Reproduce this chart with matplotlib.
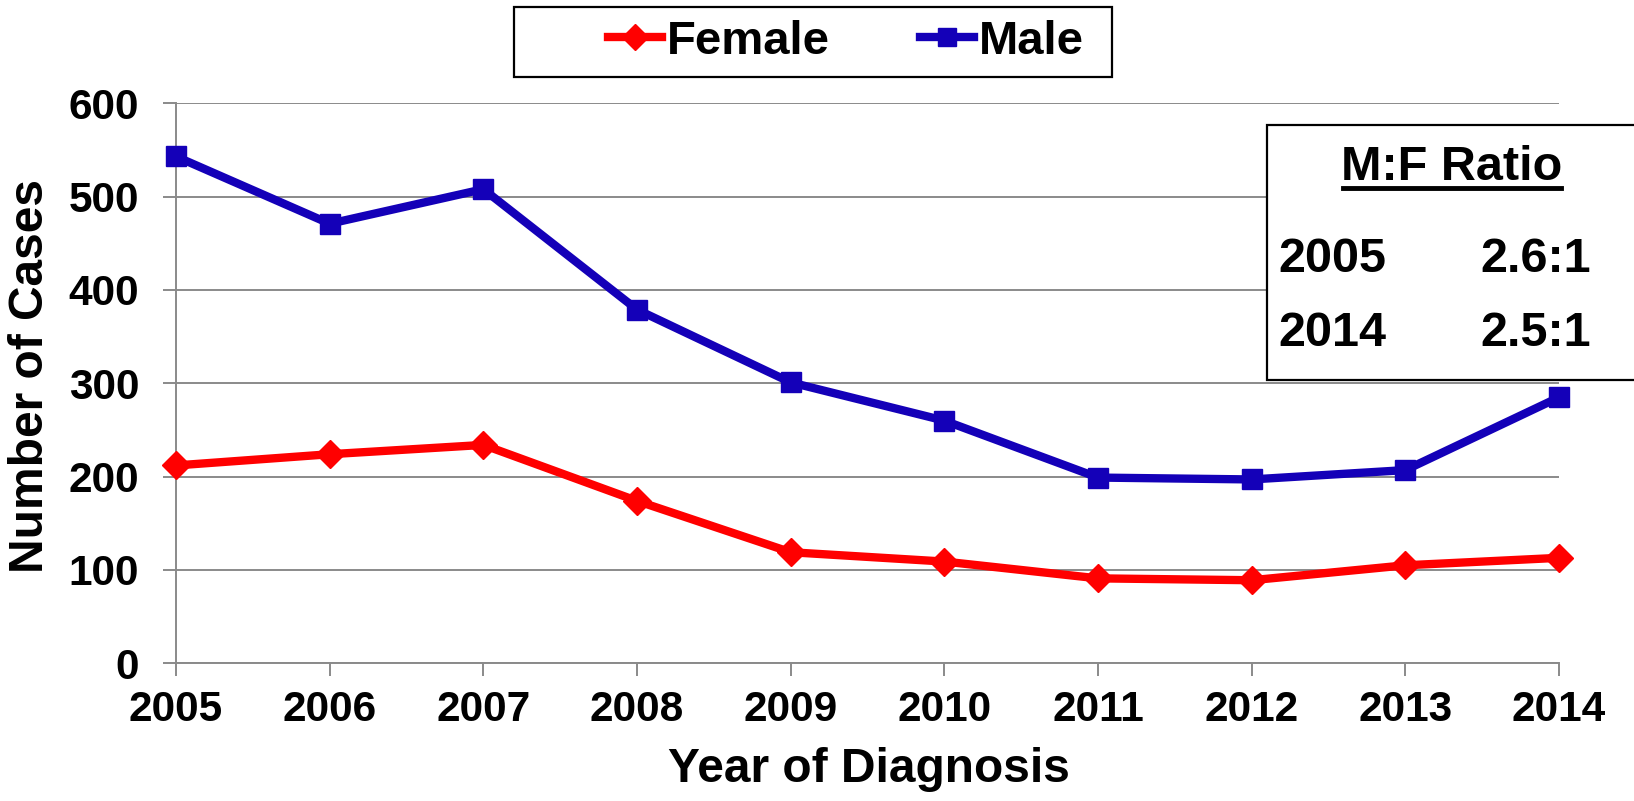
import matplotlib
matplotlib.use("Agg")
import matplotlib.pyplot as plt
from matplotlib.patches import Rectangle
from matplotlib.lines import Line2D

years = [2005, 2006, 2007, 2008, 2009, 2010, 2011, 2012, 2013, 2014]
female = [212, 224, 234, 174, 119, 109, 91, 89, 105, 113]
male = [543, 471, 508, 379, 301, 260, 199, 197, 207, 285]
yticks = [0, 100, 200, 300, 400, 500, 600]
ratio_rows = [("2005", "2.6:1"), ("2014", "2.5:1")]

RED = "#FF0000"
BLUE = "#1400B8"
GRID = "#8a8a8a"

plt.rcParams['font.family'] = ['Liberation Sans', 'DejaVu Sans']
plt.rcParams['font.weight'] = 'bold'

W, H = 1634, 801
fig = plt.figure(figsize=(W / 100, H / 100), dpi=100)

def fx(px):
    return px / W

def fy(py):
    return 1 - py / H

ax = fig.add_axes([fx(176), fy(663.3), fx(1559) - fx(176), fy(103.3) - fy(663.3)])

ax.plot(years, female, color=RED, lw=6, marker='D', ms=14,
        clip_on=False, zorder=4, label='Female')
ax.plot(years, male, color=BLUE, lw=6, marker='s', ms=14.5,
        clip_on=False, zorder=4, label='Male')

ax.set_xlim(2005, 2014)
ax.set_ylim(0, 600)
ax.set_xticks(years)
ax.set_xticklabels([str(y) for y in years])
ax.set_yticks(yticks)
ax.yaxis.grid(True, color=GRID, lw=1.4)
ax.set_axisbelow(True)
for s in ['top', 'right']:
    ax.spines[s].set_visible(False)
for s in ['left', 'bottom']:
    ax.spines[s].set_color(GRID)
    ax.spines[s].set_linewidth(1.4)
ax.tick_params(axis='both', colors=GRID, width=1.4, length=9.5, labelcolor='black')
ax.tick_params(axis='y', labelsize=30.5, pad=17)
ax.tick_params(axis='x', labelsize=30.5, pad=10)
for lab in ax.get_xticklabels() + ax.get_yticklabels():
    lab.set_fontweight('bold')

# axis labels
fig.text(fx(869), fy(782), "Year of Diagnosis", ha='center', va='baseline',
         fontsize=34.5, fontweight='bold')
fig.text(fx(31), fy(376), "Number of Cases", ha='center', va='center',
         rotation=90, fontsize=34.5, fontweight='bold')

# legend box
fig.patches.append(Rectangle((fx(514), fy(77)), fx(1112) - fx(514), fy(7) - fy(77),
                             transform=fig.transFigure, facecolor='white',
                             edgecolor='black', lw=1.6, zorder=1))
handles = [Line2D([], [], color=RED, lw=6, marker='D', ms=13),
           Line2D([], [], color=BLUE, lw=6, marker='s', ms=13)]
leg = fig.legend(handles, ['Female', 'Male'], loc='center',
                 bbox_to_anchor=(fx(846), fy(42)), ncol=2, frameon=False,
                 prop={'size': 34, 'weight': 'bold'}, handlelength=1.15,
                 handletextpad=0.1, columnspacing=1.9, borderpad=0)

# M:F ratio box
fig.patches.append(Rectangle((fx(1267), fy(380)), fx(1640) - fx(1267), fy(125) - fy(380),
                             transform=fig.transFigure, facecolor='white',
                             edgecolor='black', lw=1.6, zorder=5))
fig.text(fx(1452), fy(180), "M:F Ratio", ha='center', va='baseline',
         fontsize=35, fontweight='bold', zorder=6)
fig.lines.append(Line2D([fx(1343), fx(1561)], [fy(188), fy(188)],
                        transform=fig.transFigure, color='black', lw=3.5, zorder=6))
for i, (yr, rt) in enumerate(ratio_rows):
    base = [272, 346][i]
    fig.text(fx(1278), fy(base), yr, ha='left', va='baseline',
             fontsize=35, fontweight='bold', zorder=6)
    fig.text(fx(1480), fy(base), rt, ha='left', va='baseline',
             fontsize=35, fontweight='bold', zorder=6)

fig.savefig("out.png", dpi=100)
